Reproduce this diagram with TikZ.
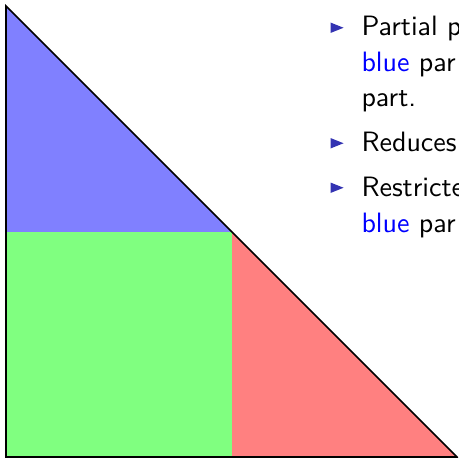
\documentclass[tikz,border=0pt]{standalone}
\usepackage{fontspec}
\newfontfamily\slidefont{lmsans10-regular.otf}
\definecolor{structure}{RGB}{51,51,178}
\begin{document}
\begin{tikzpicture}[x=1pt,y=-1pt,
  txt/.style={anchor=base west, inner sep=0pt, font=\slidefont\fontsize{28}{33}\selectfont},
  edge/.style={line width=1.6pt, draw=black},
  bulletmark/.style={fill=structure}]
\useasboundingbox (0,0) rectangle (458,460);
\clip (0,0) rectangle (458,460);
% regions
\fill[blue!50] (6,6) -- (6,232) -- (232,232) -- cycle;
\fill[green!50] (6,232) rectangle (232,457);
\fill[red!50] (232,232) -- (232,457) -- (457,457) -- cycle;
\draw[edge] (6,6) -- (6,457) -- (457,457) -- cycle;
% bullets
\foreach \b in {36,151.5,196} {
  \fill[bulletmark] (330.5,\b-13.5) -- (343.5,\b-8.25) -- (330.5,\b-3) -- cycle;
}
% text
\node[txt] (l1) at (361.3,36) {Partial p};
\node[txt] (l2) at (361.3,71.5) {\textcolor{blue}{blue} par};
\node[txt] (l3) at (361.3,106.5) {part.};
\node[txt] (l4) at (361.3,151.5) {Reduces};
\node[txt] (l5) at (361.3,196) {Restricte};
\node[txt] (l6) at (361.3,232.5) {\textcolor{blue}{blue} par};
\end{tikzpicture}
\end{document}
